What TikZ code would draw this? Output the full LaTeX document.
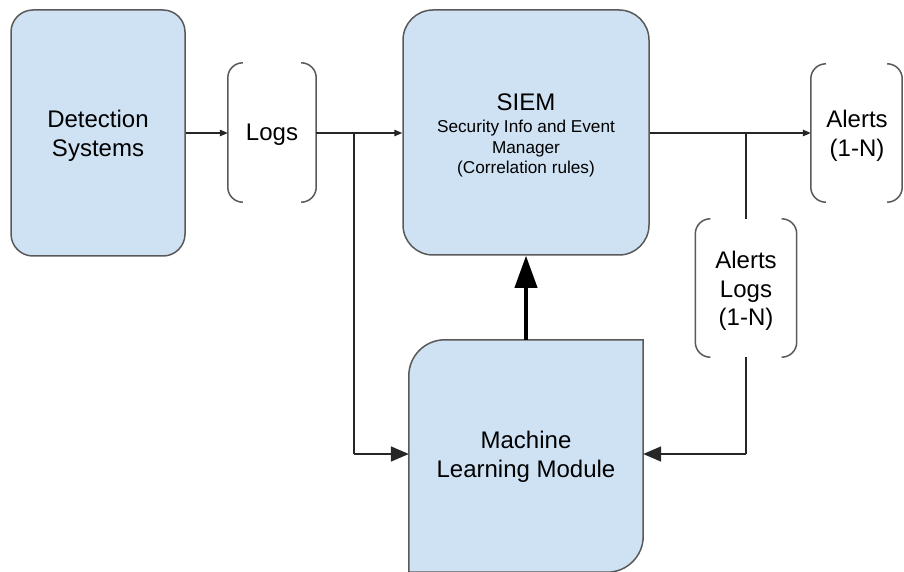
\documentclass[tikz,border=0pt]{standalone}
\usepackage{fontspec}
\setmainfont{Liberation Sans}
\usetikzlibrary{arrows.meta}
\definecolor{boxfill}{HTML}{CFE2F3}
\definecolor{boxline}{HTML}{595959}
\definecolor{wire}{HTML}{262626}
\begin{document}
\begin{tikzpicture}[x=1pt,y=1pt,
  lbl/.style={font=\fontsize{24}{28.5}\selectfont, align=center, text=black},
  block/.style={draw=boxline, line width=1.5pt, fill=boxfill, inner sep=0pt},
  holder/.style={inner sep=0pt},
  brk/.style={draw=boxline, line width=1.5pt, rounded corners=15pt},
  flow/.style={draw=wire, line width=1.3pt, -{Triangle[length=8pt,width=6.5pt]}},
  feed/.style={draw=wire, line width=1.8pt, -{Triangle[length=18pt,width=15pt]}},
  push/.style={draw=black, line width=4pt, -{Triangle[length=32pt,width=22pt]}}]
\useasboundingbox (0,0) rectangle (904,571);

% main blocks
\node[block, rounded corners=22pt, minimum width=174pt, minimum height=246pt]
  (det) at (98,438) {};
\node[lbl] (dettext) at (98,435) {Detection\\Systems};
\node[block, rounded corners=30pt, minimum width=246pt, minimum height=245pt]
  (siem) at (526,438.5) {};
\node[lbl] (siemtitle) at (526,469) {SIEM};
\node[align=center, font=\fontsize{17.2}{20.5}\selectfont, text=black]
  (siemsub) at (526,422) {Security Info and Event\\Manager\\(Correlation rules)};

% machine learning module: rounded top-left and bottom-right corners
\node[holder, minimum width=234pt, minimum height=232pt] (ml) at (526,115) {};
\fill[boxfill] (ml.north east) -- ([xshift=36pt]ml.north west)
  arc[start angle=90, end angle=180, radius=36pt] -- (ml.south west)
  -- ([xshift=-36pt]ml.south east) arc[start angle=270, end angle=360, radius=36pt]
  -- cycle;
\draw[boxline, line width=1.5pt] (ml.south west) -- ([yshift=-36pt]ml.north west)
  arc[start angle=180, end angle=90, radius=36pt] -- (ml.north east)
  -- ([yshift=36pt]ml.south east) arc[start angle=0, end angle=-90, radius=36pt]
  -- (ml.south west);
\node[lbl] (mltext) at (526,114) {Machine\\Learning Module};

% bracket-pair data nodes
\node[holder, minimum width=88pt, minimum height=139pt] (logs) at (272,438.5) {};
\node[lbl] (logstext) at (272,436.5) {Logs};
\node[holder, minimum width=91pt, minimum height=138pt] (alerts) at (856.5,438) {};
\node[lbl] (alertstext) at (857,435) {Alerts\\(1-N)};
\node[holder, minimum width=101pt, minimum height=138pt] (alog) at (746,283) {};
\node[lbl] (alogtext) at (746,280) {Alerts\\Logs\\(1-N)};
\foreach \n in {logs,alerts,alog}{
  \draw[brk] ([xshift=15pt]\n.north west) -- (\n.north west) -- (\n.south west)
    -- ([xshift=15pt]\n.south west);
  \draw[brk] ([xshift=-15pt]\n.north east) -- (\n.north east) -- (\n.south east)
    -- ([xshift=-15pt]\n.south east);
}

% junctions and bends
\coordinate (jl) at (354,438);
\coordinate (bl) at (354,117);
\coordinate (jr) at (746,438);
\coordinate (br) at (746,117);

% connectors
\draw[flow] (det.east |- jl) -- (logs.west |- jl);
\draw[flow] (logs.east |- jl) -- (siem.west |- jl);
\draw[flow] (siem.east |- jr) -- (alerts.west |- jr);
\draw[draw=wire, line width=1.3pt] (jl) -- (bl);
\draw[feed] (bl) -- (ml.west |- bl);
\draw[draw=wire, line width=1.3pt] (jr) -- (alog.north);
\draw[draw=wire, line width=1.3pt] (alog.south) -- (br);
\draw[feed] (br) -- (ml.east |- br);
\draw[push] (ml.north) -- (siem.south);
\end{tikzpicture}
\end{document}
